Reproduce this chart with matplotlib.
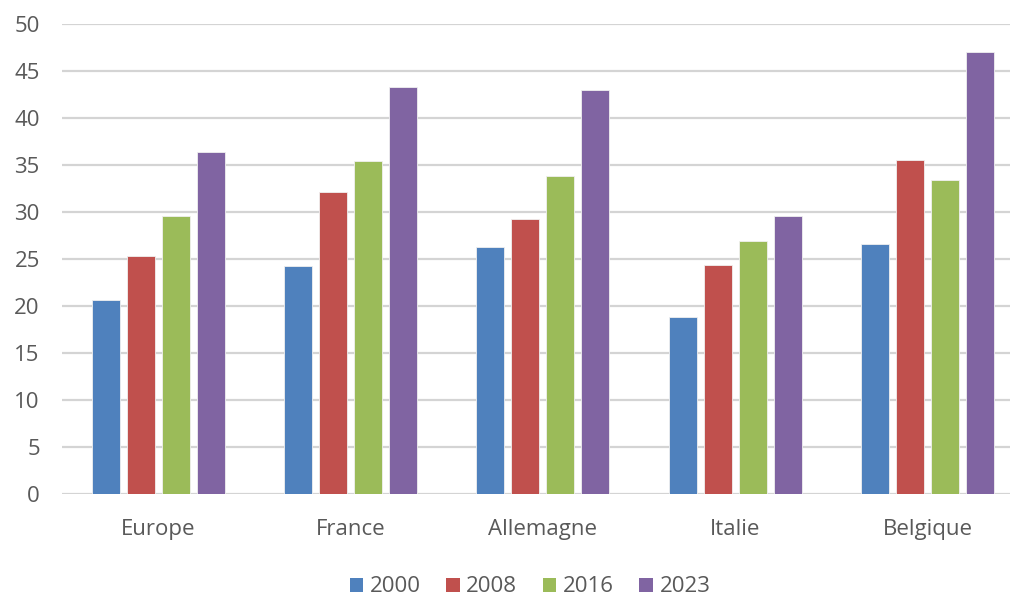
import numpy as np
import matplotlib
matplotlib.use("Agg")
import matplotlib.pyplot as plt
from matplotlib.patches import Patch

categories = ["Europe", "France", "Allemagne", "Italie", "Belgique"]
years = ["2000", "2008", "2016", "2023"]
v2000 = [20.7, 24.3, 26.3, 18.9, 26.6]
v2008 = [25.4, 32.2, 29.3, 24.4, 35.6]
v2016 = [29.6, 35.5, 33.9, 26.9, 33.4]
v2023 = [36.4, 43.3, 43.0, 29.6, 47.1]
series = [v2000, v2008, v2016, v2023]
colors = ["#4F81BD", "#C0504D", "#9BBB59", "#8064A2"]
yticks = [0, 5, 10, 15, 20, 25, 30, 35, 40, 45, 50]

plt.rcParams["font.family"] = ["Open Sans", "DejaVu Sans"]
text_color = "#595959"
grid_color = "#D4D4D4"

W, H = 1010, 597
fig = plt.figure(figsize=(W / 100, H / 100), dpi=100)
left, right = 62 / W, 1.0
bottom, top = (H - 494.3) / H, (H - 24.3) / H
ax = fig.add_axes([left, bottom, right - left, top - bottom])

x = np.arange(len(categories))
width = 0.146
step = 0.182
for i, (vals, col) in enumerate(zip(series, colors)):
    ax.bar(x + (i - 1.5) * step, vals, width=width, color=col,
           edgecolor="#f0f0f0", linewidth=0.6, zorder=3, label=years[i])

ax.set_xlim(-0.5, (W - 158) / 192.35)
ax.set_ylim(0, 50)
ax.set_yticks(yticks)
ax.set_yticklabels([str(t) for t in yticks])
ax.yaxis.grid(True, color=grid_color, linewidth=1.6, zorder=0)
ax.set_axisbelow(True)
for s in ax.spines.values():
    s.set_visible(False)
ax.tick_params(axis="y", length=0, pad=16, labelsize=16, labelcolor=text_color)
ax.set_xticks(x)
ax.set_xticklabels(categories)
ax.tick_params(axis="x", length=0, pad=18, labelsize=16, labelcolor=text_color)

handles = [Patch(facecolor=c, edgecolor="none") for c in colors]
fig.legend(handles, years, loc="center", bbox_to_anchor=(530 / W, (H - 587) / H),
           ncol=4, frameon=False, fontsize=16, labelcolor=text_color,
           handlelength=0.6, handleheight=0.6, handletextpad=0.3,
           columnspacing=1.15)

fig.savefig("out.png", dpi=100)
